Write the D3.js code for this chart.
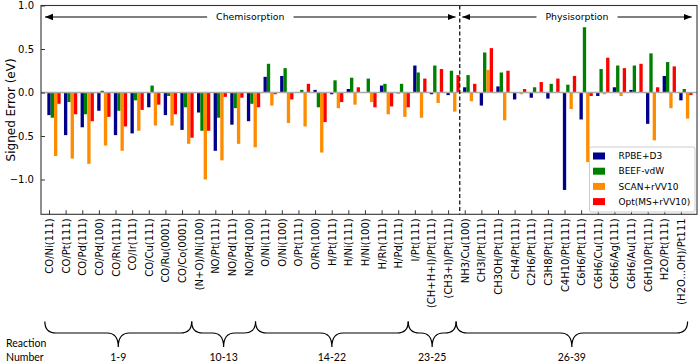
<!DOCTYPE html>
<html><head><meta charset="utf-8">
<script src="https://cdn.jsdelivr.net/npm/d3@7"></script>
<style>body{margin:0;background:#fff}svg{display:block}</style>
</head><body>
<script>
const categories = ["CO/Ni(111)","CO/Pt(111)","CO/Pd(111)","CO/Pd(100)","CO/Rh(111)","CO/Ir(111)","CO/Cu(111)","CO/Ru(0001)","CO/Co(0001)","(N+O)/Ni(100)","NO/Pt(111)","NO/Pd(111)","NO/Pd(100)","O/Ni(111)","O/Ni(100)","O/Pt(111)","O/Rh(100)","H/Pt(111)","H/Ni(111)","H/Ni(100)","H/Rh(111)","H/Pd(111)","I/Pt(111)","(CH+H+I)/Pt(111)","(CH3+I)/Pt(111)","NH3/Cu(100)","CH3I/Pt(111)","CH3OH/Pt(111)","CH4/Pt(111)","C2H6/Pt(111)","C3H8/Pt(111)","C4H10/Pt(111)","C6H6/Pt(111)","C6H6/Cu(111)","C6H6/Ag(111)","C6H6/Au(111)","C6H10/Pt(111)","H2O/Pt(111)","(H2O...OH)/Pt111"];
const rpbe = [-0.26,-0.49,-0.40,-0.21,-0.49,-0.47,-0.17,-0.26,-0.43,-0.23,-0.67,-0.37,-0.33,0.18,0.19,0.00,0.03,-0.02,0.04,0.00,0.08,-0.01,0.31,-0.02,-0.03,0.06,-0.15,0.07,-0.08,-0.06,-0.07,-1.12,-0.31,-0.04,0.06,0.03,-0.36,0.19,-0.09];
const beef = [-0.29,-0.11,-0.25,0.02,-0.21,-0.09,0.08,-0.04,-0.17,-0.44,-0.29,-0.18,-0.13,0.33,0.28,0.03,-0.17,0.14,0.17,0.16,0.10,0.10,0.23,0.31,0.25,0.20,0.46,0.23,0.005,0.06,0.10,0.09,0.75,0.27,0.31,0.31,0.45,0.35,0.04];
const scan = [-0.73,-0.76,-0.82,-0.61,-0.67,-0.44,-0.38,-0.38,-0.59,-1.00,-0.78,-0.59,-0.63,-0.15,-0.35,-0.39,-0.69,-0.18,-0.14,-0.11,-0.25,-0.28,-0.29,-0.12,-0.22,-0.10,0.26,-0.32,-0.02,-0.005,-0.005,-0.19,-0.80,-0.02,-0.04,-0.005,-0.55,-0.18,-0.30];
const opt = [-0.13,-0.25,-0.33,-0.28,-0.39,-0.20,-0.14,-0.25,-0.52,-0.44,-0.05,-0.06,-0.17,-0.02,-0.08,0.10,-0.34,-0.11,0.06,-0.17,-0.16,-0.17,0.16,0.27,0.20,0.10,0.51,0.25,0.04,0.12,0.16,0.19,-0.04,0.40,0.28,0.33,0.06,0.30,-0.03];
const seriesNames = ["RPBE+D3","BEEF-vdW","SCAN+rVV10","Opt(MS+rVV10)"];
const seriesColors = ["#00008b","#008000","#ff8c00","#ff0000"];
const yTicks = [-1.0,-0.5,0.0,0.5,1.0];
const groupLabels = ["1-9","10-13","14-22","23-25","26-39"];
const groupBounds = [-0.25,8.58,12.42,21.6,24.48,38.4];
const regionSplit = 24.7;

const W=700,H=362;
const L=41,R=697,T=5.5,B=214.3;
const svg=d3.select("body").append("svg").attr("width",W).attr("height",H);
const x=d3.scaleLinear().domain([-0.481,38.966]).range([L,R]);
const y=d3.scaleLinear().domain([-1.4,1.0]).range([B,T]);
const bw=0.2;
const series=[rpbe,beef,scan,opt];
const font="DejaVu Sans, sans-serif";

series.forEach((vals,s)=>{
  svg.append("g").selectAll("rect").data(vals).join("rect")
    .attr("x",(d,i)=>x(i+s*bw-bw/2))
    .attr("width",x(bw)-x(0))
    .attr("y",d=>y(Math.max(0,d)))
    .attr("height",d=>Math.abs(y(d)-y(0)))
    .attr("fill",seriesColors[s]);
});
svg.append("line").attr("x1",L).attr("x2",R).attr("y1",y(0)).attr("y2",y(0))
  .attr("stroke","#aaaaaa").attr("stroke-width",1.7);

svg.append("line").attr("x1",x(regionSplit)).attr("x2",x(regionSplit)).attr("y1",T).attr("y2",B)
  .attr("stroke","#000").attr("stroke-width",1.2).attr("stroke-dasharray","4,2.5");

const yAxis=d3.axisLeft(y).tickValues(yTicks).tickSizeInner(-4).tickSizeOuter(0).tickPadding(7)
  .tickFormat(d=>d3.format(".1f")(d).replace("-","\u2212"));
const gy=svg.append("g").attr("transform",`translate(${L},0)`).call(yAxis);
gy.select(".domain").remove();
gy.selectAll("text").attr("font-family",font).attr("font-size",10).attr("fill","#000");
gy.selectAll("line").attr("stroke","#333");

const xAxis=d3.axisBottom(x).tickValues(d3.range(categories.length)).tickSizeInner(-4).tickSizeOuter(0)
  .tickFormat(i=>categories[i]);
const gx=svg.append("g").attr("transform",`translate(0,${B})`).call(xAxis);
gx.select(".domain").remove();
gx.selectAll("line").attr("stroke","#333");
gx.selectAll("text").attr("font-family",font).attr("font-size",10).attr("fill","#000")
  .attr("text-anchor","end").attr("transform","rotate(-90)").attr("x",-4).attr("y",0).attr("dy","0.35em");

svg.append("rect").attr("x",L).attr("y",T).attr("width",R-L).attr("height",B-T)
  .attr("fill","none").attr("stroke","#333").attr("stroke-width",1.1);

svg.append("text").attr("transform",`translate(11,${(T+B)/2}) rotate(-90)`)
  .attr("text-anchor","middle").attr("dy","0.35em").attr("font-family",font).attr("font-size",12)
  .text("Signed Error (eV)");

const defs=svg.append("defs");
defs.append("marker").attr("id","ah").attr("viewBox","0 0 10 10").attr("refX",10).attr("refY",5)
  .attr("markerWidth",8).attr("markerHeight",8).attr("markerUnits","userSpaceOnUse").attr("orient","auto-start-reverse")
  .append("path").attr("d","M0,1 L10,5 L0,9 Z").attr("fill","#000");
function region(x1,x2,label){
  const ay=17;
  svg.append("line").attr("x1",x1).attr("x2",x2).attr("y1",ay).attr("y2",ay)
    .attr("stroke","#000").attr("stroke-width",1.2)
    .attr("marker-start","url(#ah)").attr("marker-end","url(#ah)");
  const cx=(x1+x2)/2;
  const t=svg.append("text").attr("x",cx).attr("y",ay).attr("dy","0.35em").attr("text-anchor","middle")
    .attr("font-family",font).attr("font-size",9.4).text(label);
  const bb=t.node().getBBox();
  svg.append("rect").attr("x",bb.x-9).attr("y",bb.y).attr("width",bb.width+18).attr("height",bb.height).attr("fill","#fff");
  t.raise();
}
region(x(-0.24),x(24.45),"Chemisorption");
region(x(24.85),x(38.65),"Physisorption");

const lg=svg.append("g");
lg.append("rect").attr("x",589.5).attr("y",147).attr("width",105.5).attr("height",65).attr("rx",2)
  .attr("fill","#fff").attr("fill-opacity",0.85).attr("stroke","#cccccc").attr("stroke-width",1);
seriesNames.forEach((n,i)=>{
  const cy=156+i*15.2;
  lg.append("rect").attr("x",593).attr("y",cy-3.5).attr("width",12).attr("height",7).attr("fill",seriesColors[i]);
  lg.append("text").attr("x",618.5).attr("y",cy).attr("dy","0.35em").attr("font-family",font).attr("font-size",9).text(n);
});

const yTop=321.5,yMid=333,yTip=347;
function brace(x1,x2){
  const xm=(x1+x2)/2, r=8;
  const p=d3.path();
  p.moveTo(x1,yTop);
  p.quadraticCurveTo(x1,yMid,x1+r*1.4,yMid);
  p.lineTo(xm-r*1.4,yMid);
  p.quadraticCurveTo(xm,yMid,xm,yTip);
  p.quadraticCurveTo(xm,yMid,xm+r*1.4,yMid);
  p.lineTo(x2-r*1.4,yMid);
  p.quadraticCurveTo(x2,yMid,x2,yTop);
  svg.append("path").attr("d",p.toString()).attr("fill","none").attr("stroke","#000").attr("stroke-width",1.2);
}
const lblFont="Lato, 'Open Sans', sans-serif";
groupLabels.forEach((g,i)=>{
  const a=x(groupBounds[i]), b=x(groupBounds[i+1]);
  brace(a,b);
  svg.append("text").attr("x",(a+b)/2).attr("y",357).attr("dy","0.35em").attr("text-anchor","middle")
    .attr("font-family",lblFont).attr("font-size",10.5).text(g);
});
svg.append("text").attr("x",6).attr("y",343).attr("dy","0.35em").attr("font-family",lblFont).attr("font-size",10.5).text("Reaction");
svg.append("text").attr("x",6).attr("y",357).attr("dy","0.35em").attr("font-family",lblFont).attr("font-size",10.5).text("Number");
</script>
</body></html>
